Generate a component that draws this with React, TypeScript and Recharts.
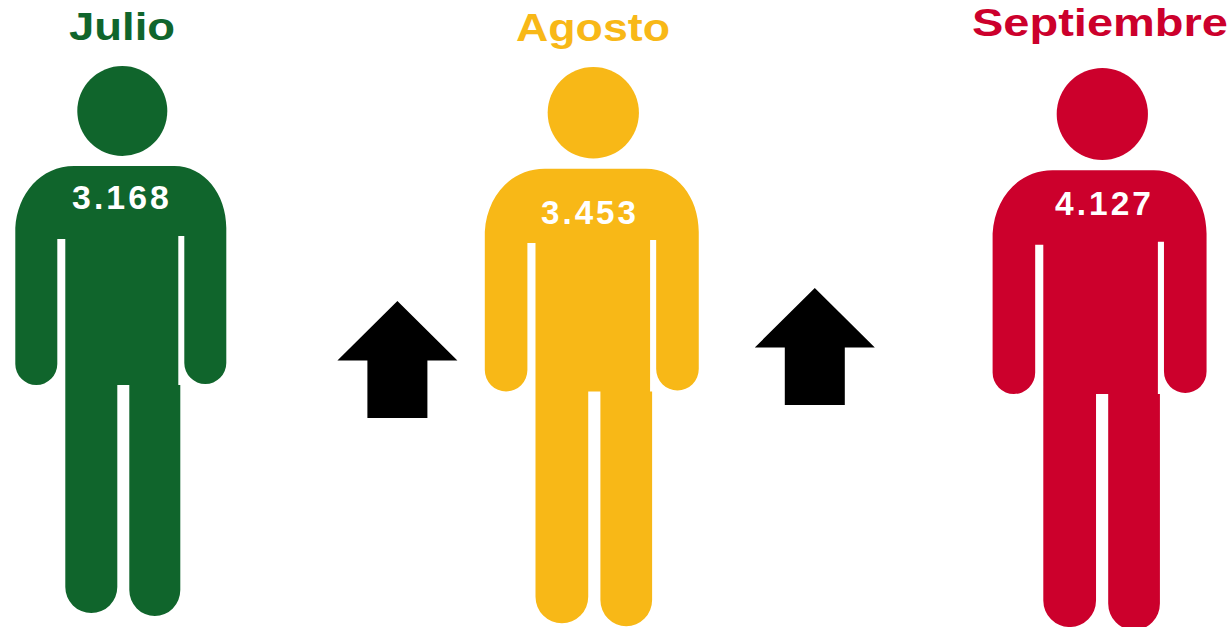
import React from "react";
import { BarChart, Bar, XAxis, YAxis } from "recharts";

const slots = ["Julio", "Julio a Agosto", "Agosto", "Agosto a Septiembre", "Septiembre"];
const people = [3168, null, 3453, null, 4127];
const increases = [null, 285, null, 674, null];
const rows = slots.map((slot, i) => ({ slot, people: people[i], increase: increases[i] }));

const colors: Record<string, string> = { Julio: "#10652C", Agosto: "#F8B817", Septiembre: "#CC002C" };

// Presentation only: the source image places its figures by hand.
const figureStyle: Record<string, any> = {
  Julio: { dx: -0.7, top: 0, sx: 1, sy: 1, headDx: 0, valueX: 122, valueY: 209, valueW: 100, titleX: 122, titleY: 40, titleW: 106 },
  Agosto: { dx: -22.5, top: 1, sx: 1.014, sy: 1.017, headDx: 0, valueX: 590, valueY: 224, valueW: 98, titleX: 593, titleY: 41, titleW: 154 },
  Septiembre: { dx: -7.5, top: 2, sx: 1.014, sy: 1.022, headDx: 1.2, valueX: 1104.5, valueY: 215, valueW: 99, titleX: 1100, titleY: 36, titleW: 256 },
};
const arrowStyle: Record<string, any> = {
  "Julio a Agosto": { dx: 28, tip: 301 },
  "Agosto a Septiembre": { dx: -47.4, tip: 288 },
};

const bodyPath =
  "M-107 162 C-105 128 -82 100 -48 100 L52 100 C82 100 104 128 104 162 L104 297 A21 21 0 0 1 62 297 L62 170 L56 170 L56 319 L58 319 L58 524 A25.5 26 0 0 1 7 524 L7 319 L-5 319 L-5 521 A26 26 0 0 1 -57 521 L-57 173 L-65 173 L-65 298 A21 21 0 0 1 -107 298 Z";

const font = "'Liberation Sans', Arial, sans-serif";
const fmt = (v: number) => String(v).replace(/(\d)(\d{3})$/, "$1.$2");

function Person(props: any) {
  const { x, width, payload } = props;
  if (payload.people == null) return null;
  const s = figureStyle[payload.slot];
  const cx = x + width / 2 + s.dx;
  const fill = colors[payload.slot];
  return (
    <g>
      <g transform={`translate(${cx} ${66 + s.top}) scale(${s.sx} ${s.sy})`}>
        <circle cx={s.headDx} cy={45} r={45} fill={fill} />
        <path d={bodyPath} fill={fill} />
      </g>
      <text
        x={s.valueX}
        y={s.valueY}
        textAnchor="middle"
        fontFamily={font}
        fontWeight={700}
        fontSize={33}
        letterSpacing={3}
        fill="#FFFFFF"
        textLength={s.valueW}
        lengthAdjust="spacingAndGlyphs"
      >
        {fmt(payload.people)}
      </text>
    </g>
  );
}

function UpArrow(props: any) {
  const { x, width, payload } = props;
  if (payload.increase == null) return null;
  const s = arrowStyle[payload.slot];
  const cx = x + width / 2 + s.dx;
  const t = s.tip;
  return (
    <path
      d={`M${cx} ${t} L${cx + 60} ${t + 59.5} L${cx + 30} ${t + 59.5} L${cx + 30} ${t + 117} L${cx - 30} ${t + 117} L${cx - 30} ${t + 59.5} L${cx - 60} ${t + 59.5} Z`}
      fill="#000000"
    />
  );
}

function Title(props: any) {
  const { payload } = props;
  const s = figureStyle[payload.value];
  if (!s) return null;
  return (
    <text
      x={s.titleX}
      y={s.titleY}
      textAnchor="middle"
      fontFamily={font}
      fontWeight={700}
      fontSize={39}
      fill={colors[payload.value]}
      textLength={s.titleW}
      lengthAdjust="spacingAndGlyphs"
    >
      {payload.value}
    </text>
  );
}

export default function App() {
  return (
    <div style={{ position: "absolute", left: 0, top: 0, width: 1232, height: 627, overflow: "hidden", background: "#fff" }}>
      <BarChart width={1232} height={627} data={rows} margin={{ top: 0, right: 0, bottom: 0, left: 0 }} barCategoryGap={0}>
        <XAxis dataKey="slot" orientation="top" height={1} axisLine={false} tickLine={false} interval={0} tick={<Title />} />
        <YAxis hide domain={[0, 5000]} />
        <Bar dataKey="people" stackId="a" isAnimationActive={false} shape={<Person />} />
        <Bar dataKey="increase" stackId="a" isAnimationActive={false} shape={<UpArrow />} />
      </BarChart>
    </div>
  );
}
